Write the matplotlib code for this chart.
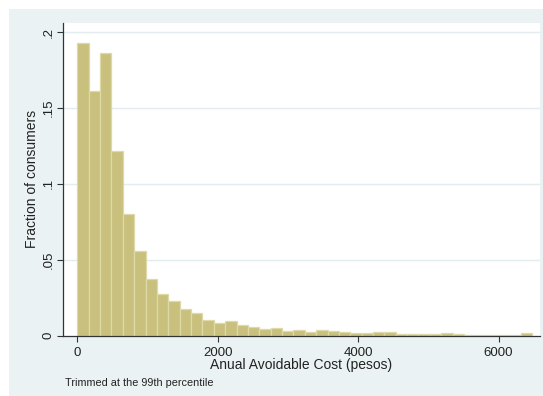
import matplotlib
matplotlib.use("Agg")
import matplotlib.pyplot as plt
import numpy as np

# Data: fraction of consumers per bin (bin width ~162 pesos, starting at 0)
bin_width = 162
fractions = [0.1927, 0.1615, 0.1861, 0.1218, 0.0801, 0.0556, 0.0374, 0.0275,
             0.0226, 0.0172, 0.0148, 0.0101, 0.0083, 0.0094, 0.0068, 0.0057,
             0.0040, 0.0048, 0.0028, 0.0035, 0.0022, 0.0037, 0.0028, 0.0022,
             0.0017, 0.0015, 0.0022, 0.0022, 0.0013, 0.0013, 0.0013, 0.0008,
             0.0018, 0.0007, 0.0003, 0.0006, 0.0006, 0.0003, 0.0003, 0.0017]
xticks = [0, 2000, 4000, 6000]
xticklabels = ["0", "2000", "4000", "6000"]
yticks = [0, 0.05, 0.10, 0.15, 0.20]
yticklabels = ["0", ".05", ".1", ".15", ".2"]

plt.rcParams['font.family'] = ['Liberation Sans', 'DejaVu Sans']

W, H = 543, 396
fig = plt.figure(figsize=(W / 100, H / 100), dpi=100)
fig.patch.set_facecolor("white")

bg = "#EAF2F3"
bgax = fig.add_axes([9 / W, 0, (W - 9) / W, (H - 9) / H], zorder=-5)
bgax.set_facecolor(bg)
bgax.set_xticks([]); bgax.set_yticks([])
for s in bgax.spines.values():
    s.set_visible(False)

left, right, top, bottom = 62.5, 540, 22.7, 335.5
ax = fig.add_axes([left / W, (H - bottom) / H, (right - left) / W, (bottom - top) / H])
ax.set_facecolor("white")

edges = np.arange(len(fractions)) * bin_width
ax.bar(edges, fractions, width=bin_width, align="edge",
       color="#C8C07C", edgecolor="#DEDAA8", linewidth=0.9, zorder=2)

ax.set_xlim(-211, 6591)
ax.set_ylim(0, 0.2063)

ax.set_yticks(yticks)
ax.set_yticklabels(yticklabels, rotation=90, va="center", fontsize=9.5, color="#222222")
ax.set_xticks(xticks)
ax.set_xticklabels(xticklabels, fontsize=9.5, color="#222222")
ax.tick_params(axis="both", direction="out", length=4, width=0.8, color="#333333")
ax.tick_params(axis="x", pad=4.5)
ax.tick_params(axis="y", pad=1.5)

for yv in yticks[1:]:
    ax.axhline(yv, color="#E3ECEE", linewidth=1.0, zorder=1)

for s in ["top", "right"]:
    ax.spines[s].set_visible(False)
for s in ["left", "bottom"]:
    ax.spines[s].set_color("#333333")
    ax.spines[s].set_linewidth(0.9)

fig.text(32.5 / W, 1 - 179 / H, "Fraction of consumers", ha="center", va="center",
         rotation=90, fontsize=10, color="#222222")
fig.text(301.5 / W, 1 - 369.5 / H, "Anual Avoidable Cost (pesos)", ha="center", va="baseline",
         fontsize=10, color="#222222")
fig.text(65 / W, 1 - 385.5 / H, "Trimmed at the 99th percentile", ha="left", va="baseline",
         fontsize=7.8, color="#222222")

fig.savefig("out.png", dpi=100, facecolor=fig.get_facecolor())
